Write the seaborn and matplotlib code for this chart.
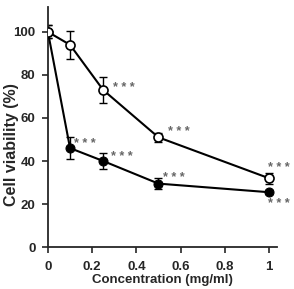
import matplotlib
matplotlib.use("Agg")
import matplotlib.pyplot as plt
import seaborn as sns
import pandas as pd

sns.set_style("ticks")
plt.rcParams['font.family'] = ['Liberation Sans', 'DejaVu Sans']
plt.rcParams['font.weight'] = 'bold'

conc = [0, 0.1, 0.25, 0.5, 1.0]
open_vals = [100, 94, 73, 51, 32]
open_err = [3, 6.5, 6, 2, 2.5]
filled_vals = [100, 46, 40, 29.5, 25.5]
filled_err = [3, 5, 3.5, 2.5, 1]
open_stars = [False, False, True, True, True]
filled_stars = [False, True, True, True, True]
xticks = [0, 0.2, 0.4, 0.6, 0.8, 1.0]
xticklabels = ["0", "0.2", "0.4", "0.6", "0.8", "1"]
yticks = [0, 20, 40, 60, 80, 100]

df = pd.DataFrame({
    "conc": conc * 2,
    "val": open_vals + filled_vals,
    "series": ["open"] * len(conc) + ["filled"] * len(conc),
})

fig = plt.figure(figsize=(2.94, 2.89), dpi=100)
ax = fig.add_axes([0.163, 0.145, 0.779, 0.831])

ax.errorbar(conc, filled_vals, yerr=filled_err, fmt='none', ecolor='black',
            elinewidth=1.0, capsize=3, capthick=1.0, zorder=2)
ax.errorbar(conc, open_vals, yerr=open_err, fmt='none', ecolor='black',
            elinewidth=1.0, capsize=3, capthick=1.0, zorder=2)

sns.lineplot(data=df[df.series == "filled"], x="conc", y="val", ax=ax,
             color='black', lw=1.5, marker='o', markersize=6.5,
             markerfacecolor='black', markeredgecolor='black', zorder=3)
sns.lineplot(data=df[df.series == "open"], x="conc", y="val", ax=ax,
             color='black', lw=1.5, marker='o', markersize=6.5,
             markerfacecolor='white', markeredgecolor='black',
             markeredgewidth=1.2, zorder=4)

star_kw = dict(color='#666666', fontsize=9, fontweight='bold', va='baseline', ha='left')
# annotation placements (offsets in pixels)
open_offsets = [None, None, (10, -1), (10, 2), (-1, 7)]
filled_offsets = [None, (4, 1), (8, 1), (5, 3), (-1, -15)]
for x, y, s, off in zip(conc, open_vals, open_stars, open_offsets):
    if s:
        ax.annotate("* * *", (x, y), xytext=off, textcoords='offset pixels',
                    annotation_clip=False, **star_kw)
for x, y, s, off in zip(conc, filled_vals, filled_stars, filled_offsets):
    if s:
        ax.annotate("* * *", (x, y), xytext=off, textcoords='offset pixels',
                    annotation_clip=False, **star_kw)

ax.set_xlim(0, 1.036)
ax.set_ylim(0, 111.6)
ax.set_xticks(xticks)
ax.set_xticklabels(xticklabels)
ax.set_yticks(yticks)
ax.tick_params(axis='both', labelsize=9.5, width=1.2, length=4, direction='out')
ax.tick_params(axis='x', pad=6)
ax.tick_params(axis='y', pad=5)
for lab in ax.get_xticklabels() + ax.get_yticklabels():
    lab.set_fontweight('bold')
ax.set_xlabel("Concentration (mg/ml)", fontsize=9.5, fontweight='bold', labelpad=1)
ax.set_ylabel("Cell viability (%)", fontsize=11.5, fontweight='bold')
ax.yaxis.set_label_coords(-0.128, 0.425)
sns.despine(ax=ax)
for sp in ['left', 'bottom']:
    ax.spines[sp].set_linewidth(1.3)

fig.savefig("out.png", dpi=100)
